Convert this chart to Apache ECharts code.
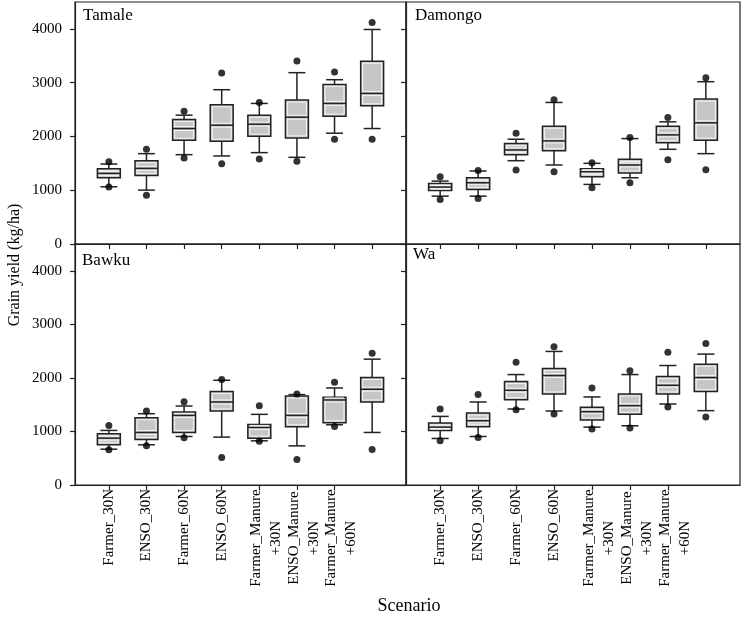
<!DOCTYPE html>
<html>
<head>
<meta charset="utf-8">
<script src="https://cdn.jsdelivr.net/npm/echarts@6/dist/echarts.min.js"></script>
<style>
  html, body { margin: 0; background: #fff; }
  #chart { width: 743px; height: 618px; }
</style>
</head>
<body>
<div id="chart"></div>
<script>
const scenarios = ['Farmer_30N', 'ENSO_30N', 'Farmer_60N', 'ENSO_60N',
  'Farmer_Manure\n+30N', 'ENSO_Manure\n+30N', 'Farmer_Manure\n+60N', 'ENSO_Manure\n+60N'];
const xTicks = [1, 2, 3, 4, 5, 6, 7, 8];
const yTicks = [0, 1000, 2000, 3000, 4000];
const sites = ['Tamale', 'Damongo', 'Bawku', 'Wa'];

// whisker low, q1, median, q3, whisker high
const tamaleBox = [
  [1064, 1232, 1313, 1400, 1487], [1002, 1276, 1406, 1549, 1680],
  [1661, 1929, 2147, 2315, 2396], [1637, 1910, 2209, 2589, 2869],
  [1699, 2004, 2228, 2396, 2614], [1612, 1973, 2358, 2676, 3186],
  [2060, 2377, 2614, 2968, 3055], [2147, 2570, 2800, 3398, 3989]
];
const damongoBox = [
  [890, 996, 1058, 1126, 1170], [890, 1014, 1139, 1232, 1357],
  [1549, 1661, 1749, 1867, 1948], [1469, 1736, 1917, 2190, 2632],
  [1108, 1251, 1344, 1400, 1500], [1232, 1319, 1469, 1574, 1960],
  [1761, 1885, 2029, 2190, 2271], [1680, 1929, 2253, 2694, 3018]
];
const bawkuBox = [
  [669, 750, 875, 956, 1019], [750, 850, 981, 1256, 1331],
  [906, 981, 1300, 1362, 1475], [894, 1381, 1550, 1744, 1956],
  [825, 875, 1075, 1131, 1319], [731, 1087, 1300, 1662, 1688],
  [1125, 1162, 1588, 1637, 1812], [981, 1550, 1788, 2006, 2350]
];
const waBox = [
  [869, 1019, 1081, 1156, 1281], [906, 1087, 1200, 1344, 1550],
  [1419, 1594, 1769, 1931, 2062], [1381, 1700, 2044, 2175, 2494],
  [1081, 1212, 1369, 1450, 1644], [1106, 1319, 1481, 1700, 2062],
  [1512, 1700, 1862, 2025, 2231], [1388, 1744, 2006, 2256, 2444]
];

// low and high dots (5th / 95th percentiles)
const tamaleDots = [[1060, 1531], [908, 1761], [1599, 2470], [1493, 3180],
  [1581, 2632], [1537, 3404], [1948, 3199], [1948, 4119]];
const damongoDots = [[828, 1251], [846, 1369], [1375, 2060], [1344, 2682],
  [1045, 1512], [1139, 1979], [1568, 2352], [1381, 3093]];
const bawkuDots = [[656, 1112], [731, 1381], [881, 1556], [512, 1969],
  [819, 1481], [475, 1700], [1094, 1919], [662, 2462]];
const waDots = [[825, 1419], [888, 1688], [1406, 2294], [1325, 2581],
  [1044, 1812], [1062, 2131], [1456, 2481], [1269, 2644]];

const boxes = [tamaleBox, damongoBox, bawkuBox, waBox];
const dots = [tamaleDots, damongoDots, bawkuDots, waDots];

const font = 'Liberation Serif';
const ink = '#222';

const grids = [
  { left: 75, top: 2, width: 331, height: 242 },
  { left: 406, top: 2, width: 334, height: 242 },
  { left: 75, top: 244, width: 331, height: 241 },
  { left: 406, top: 244, width: 334, height: 241 }
];
const titlePos = [[83, 17], [415, 17], [82, 262], [413, 256]];

function renderBox(params, api) {
  const x = api.value(0);
  const pt = k => api.coord([x, api.value(k)]);
  const lo = pt(1), q1 = pt(2), md = pt(3), q3 = pt(4), hi = pt(5);
  const cx = md[0];
  const bw = api.size([0.61, 0])[0];
  const cw = api.size([0.45, 0])[0];
  const line = { stroke: ink, lineWidth: 1.5 };
  const pale = { stroke: '#f4f4f4', lineWidth: 1 };
  return {
    type: 'group',
    children: [
      { type: 'line', shape: { x1: cx, y1: hi[1], x2: cx, y2: q3[1] }, style: line },
      { type: 'line', shape: { x1: cx, y1: q1[1], x2: cx, y2: lo[1] }, style: line },
      { type: 'line', shape: { x1: cx - cw / 2, y1: hi[1], x2: cx + cw / 2, y2: hi[1] }, style: line },
      { type: 'line', shape: { x1: cx - cw / 2, y1: lo[1], x2: cx + cw / 2, y2: lo[1] }, style: line },
      { type: 'rect', shape: { x: cx - bw / 2, y: q3[1], width: bw, height: q1[1] - q3[1] },
        style: { fill: '#c6c6c6', stroke: ink, lineWidth: 1.5 } },
      { type: 'rect', shape: { x: cx - bw / 2 + 2, y: q3[1] + 2, width: bw - 4, height: Math.max(0, q1[1] - q3[1] - 4) },
        style: { fill: null, stroke: '#f4f4f4', lineWidth: 1 } },
      { type: 'line', shape: { x1: cx - bw / 2 + 2, y1: md[1] - 2, x2: cx + bw / 2 - 2, y2: md[1] - 2 }, style: pale },
      { type: 'line', shape: { x1: cx - bw / 2 + 2, y1: md[1] + 2, x2: cx + bw / 2 - 2, y2: md[1] + 2 }, style: pale },
      { type: 'line', shape: { x1: cx - bw / 2, y1: md[1], x2: cx + bw / 2, y2: md[1] }, style: line }
    ]
  };
}

function xLabel(v) {
  const s = scenarios[Math.round(v) - 1];
  if (s.indexOf('\n') < 0) return '{s|' + s + '}';
  const parts = s.split('\n');
  return '{g| }\n{m|' + parts[0] + '}\n{m|' + parts[1] + '}';
}

const chart = echarts.init(document.getElementById('chart'));

const option = {
  animation: false,
  backgroundColor: '#fff',
  grid: grids.map(g => Object.assign({ show: true, borderColor: ink, borderWidth: 1.2 }, g)),
  xAxis: grids.map((g, i) => ({
    type: 'value',
    gridIndex: i,
    min: 0.1,
    max: 8.9,
    axisLine: { show: true, lineStyle: { color: ink, width: 1.2 } },
    axisTick: { show: true, length: 5, customValues: xTicks, lineStyle: { color: ink, width: 1.2 } },
    splitLine: { show: false },
    axisLabel: {
      show: i >= 2,
      customValues: xTicks,
      rotate: 90,
      margin: 4,
      formatter: xLabel,
      rich: {
        s: { fontFamily: font, fontSize: 15, color: '#000', lineHeight: 20 },
        m: { fontFamily: font, fontSize: 15, color: '#000', lineHeight: 20, width: 98, align: 'center' },
        g: { fontSize: 1, lineHeight: 14 }
      }
    }
  })),
  yAxis: grids.map((g, i) => ({
    type: 'value',
    gridIndex: i,
    min: 0,
    max: 4500,
    axisLine: { show: true, lineStyle: { color: ink, width: 1.2 } },
    axisTick: { show: true, length: 5, customValues: yTicks, lineStyle: { color: ink, width: 1.2 } },
    splitLine: { show: false },
    axisLabel: {
      show: i % 2 === 0,
      customValues: yTicks,
      formatter: v => String(v),
      margin: 13,
      fontFamily: font,
      fontSize: 15,
      color: '#000'
    }
  })),
  series: [].concat(
    boxes.map((b, i) => ({
      type: 'custom',
      name: sites[i],
      xAxisIndex: i,
      yAxisIndex: i,
      renderItem: renderBox,
      encode: { x: 0, y: [1, 2, 3, 4, 5] },
      data: b.map((r, j) => [xTicks[j]].concat(r)),
      z: 2
    })),
    dots.map((d, i) => ({
      type: 'scatter',
      xAxisIndex: i,
      yAxisIndex: i,
      symbol: 'circle',
      symbolSize: 7,
      itemStyle: { color: '#000' },
      data: d.flatMap((r, j) => [[xTicks[j], r[0]], [xTicks[j], r[1]]]),
      z: 3
    }))
  ),
  graphic: sites.map((s, i) => ({
    type: 'text',
    left: titlePos[i][0],
    top: titlePos[i][1] - 10,
    style: { text: s, fontFamily: font, fontSize: 17, fill: '#000' }
  })).concat([
    {
      type: 'text',
      x: 15,
      y: 265,
      rotation: Math.PI / 2,
      style: { text: 'Grain yield (kg/ha)', fontFamily: font, fontSize: 16, fill: '#000', align: 'center', verticalAlign: 'middle' }
    },
    {
      type: 'text',
      x: 409,
      y: 606,
      style: { text: 'Scenario', fontFamily: font, fontSize: 18, fill: '#000', align: 'center', verticalAlign: 'middle' }
    }
  ])
};

chart.setOption(option);
</script>
</body>
</html>
